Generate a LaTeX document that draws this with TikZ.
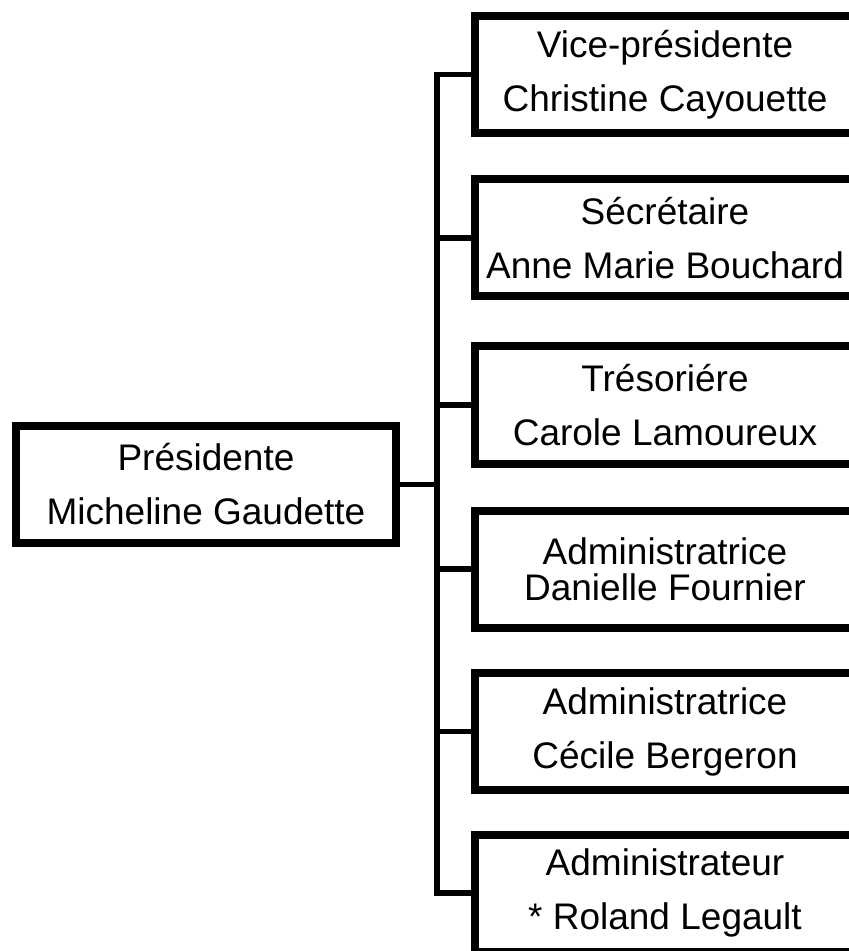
\documentclass[tikz,border=0pt]{standalone}
\usepackage{fontspec}
\setmainfont{Liberation Sans}
\usetikzlibrary{shadows}
\begin{document}
\begin{tikzpicture}[
        x=0.5pt, y=-0.5pt,
        box/.style={draw, line width=4pt, fill=white, minimum width=190pt, minimum height=58.5pt,
            inner sep=0pt, align=center, font=\fontsize{18.5}{27}\selectfont,
            drop shadow={opacity=0.3, shadow xshift=0.8pt, shadow yshift=-2pt}},
        tight/.style={font=\fontsize{18.5}{18}\selectfont},
        link/.style={draw, line width=2.8pt},
    ]
    \useasboundingbox (0,0) rectangle (849,951);
    \coordinate (bus) at (437,0);
    \node[box](pres) at (206,484.5){Présidente\\Micheline Gaudette};
    \node[box](vice) at (665,74.5){Vice-présidente\\Christine Cayouette};
    \node[box](secr) at (665,238){Sécrétaire\\Anne Marie Bouchard};
    \node[box](tres) at (665,405){Trésoriére\\Carole Lamoureux};
    \node[box,tight](adm1) at (665,569){Administratrice\\Danielle Fournier};
    \node[box](adm2) at (665,731.5){Administratrice\\Cécile Bergeron};
    \node[box](adm3) at (665,893){Administrateur\\* Roland Legault};
    \draw[link] (vice.west) -- (bus |- vice.west) -- (bus |- adm3.west) -- (adm3.west);
    \draw[link] (pres.east) -- (bus |- pres.east);
    \foreach \m in {secr,tres,adm1,adm2}
        \draw[link] (bus |- \m.west) -- (\m.west);
\end{tikzpicture}
\end{document}
